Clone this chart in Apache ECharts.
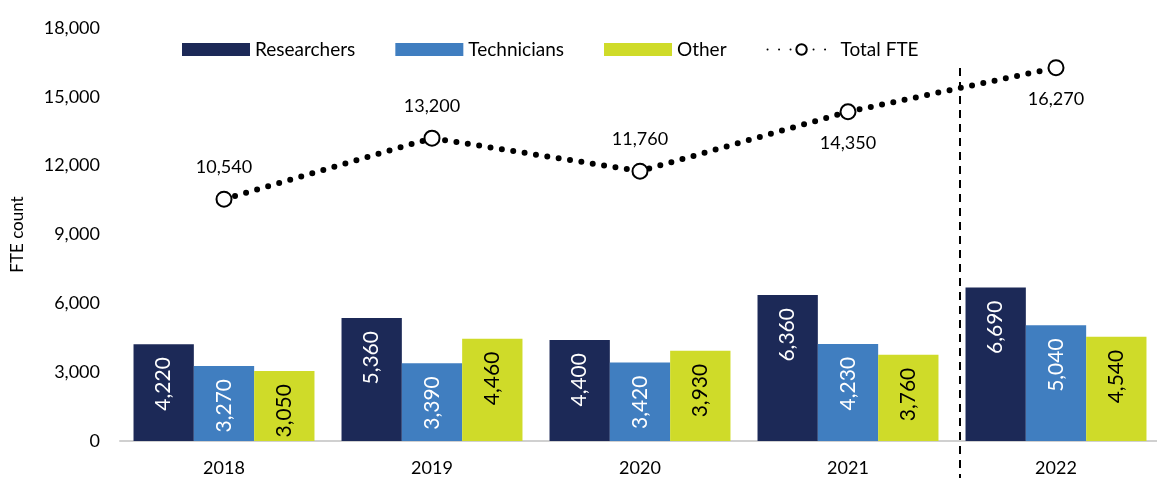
<!DOCTYPE html>
<html>
<head>
<meta charset="utf-8">
<script src="https://cdn.jsdelivr.net/npm/echarts@6/dist/echarts.min.js"></script>
<style>
  html, body { margin: 0; padding: 0; background: #fff; }
  #chart { width: 1157px; height: 478px; }
</style>
</head>
<body>
<div id="chart"></div>
<script>
const years = ['2018', '2019', '2020', '2021', '2022']
const researchers = [4220, 5360, 4400, 6360, 6690]
const technicians = [3270, 3390, 3420, 4230, 5040]
const other = [3050, 4460, 3930, 3760, 4540]
const totalFte = [10540, 13200, 11760, 14350, 16270]
const totalLabelPos = ['top', 'top', 'top', 'bottom', 'bottom']

const font = 'Lato, "Open Sans", sans-serif'
const fmt = v => v.toLocaleString('en-US')

const chart = echarts.init(document.getElementById('chart'))

function barLabel(color) {
  return {
    show: true,
    position: 'insideTop',
    rotate: 90,
    align: 'right',
    verticalAlign: 'middle',
    distance: 13,
    fontSize: 21,
    fontFamily: font,
    color: color,
    formatter: p => fmt(p.value)
  }
}

const option = {
  animation: false,
  textStyle: { fontFamily: font },
  grid: { left: 120, right: -3, top: 28, bottom: 37, outerBoundsMode: 'none' },
  legend: {
    top: 35,
    left: 177,
    itemGap: 40,
    itemWidth: 68,
    itemHeight: 13,
    textStyle: { fontSize: 19, color: '#000', fontFamily: font },
    data: [
      { name: 'Researchers', icon: 'rect' },
      { name: 'Technicians', icon: 'rect' },
      { name: 'Other', icon: 'rect' },
      { name: 'Total FTE' }
    ]
  },
  xAxis: {
    type: 'category',
    data: years,
    axisLine: { lineStyle: { color: '#d0d0d0', width: 2 } },
    axisTick: { show: false },
    axisLabel: { fontSize: 18, color: '#000', margin: 18, fontFamily: font }
  },
  yAxis: {
    type: 'value',
    min: 0,
    max: 18000,
    interval: 3000,
    name: 'FTE count',
    nameLocation: 'middle',
    nameGap: 94,
    nameTextStyle: { fontSize: 17, color: '#000', fontFamily: font },
    axisLine: { show: false },
    axisTick: { show: false },
    splitLine: { show: false },
    axisLabel: { fontSize: 18, color: '#000', margin: 20, formatter: fmt, fontFamily: font }
  },
  series: [
    {
      name: 'Researchers', type: 'bar', data: researchers,
      barGap: '0%', barCategoryGap: '13%',
      itemStyle: { color: '#1c2957' },
      label: barLabel('#fff')
    },
    {
      name: 'Technicians', type: 'bar', data: technicians,
      itemStyle: { color: '#407ec0' },
      label: barLabel('#fff')
    },
    {
      name: 'Other', type: 'bar', data: other,
      itemStyle: { color: '#cfdb29' },
      label: barLabel('#000')
    },
    {
      name: 'Total FTE', type: 'line',
      data: totalFte.map((v, i) => ({
        value: v,
        label: { position: totalLabelPos[i] }
      })),
      symbol: 'circle',
      symbolSize: 15,
      itemStyle: { color: '#fff', borderColor: '#000', borderWidth: 2 },
      lineStyle: { color: '#000', width: 6, type: [0, 11.5], cap: 'round' },
      label: {
        show: true,
        distance: 14,
        fontSize: 18,
        color: '#000',
        fontFamily: font,
        formatter: p => fmt(p.value)
      },
      z: 5
    }
  ]
}

chart.setOption(option)

// dashed divider between 2021 and 2022
const x21 = chart.convertToPixel({ xAxisIndex: 0 }, '2021')
const x22 = chart.convertToPixel({ xAxisIndex: 0 }, '2022')
const xDiv = (x21 + x22) / 2 + 8
chart.setOption({
  graphic: [{
    type: 'line',
    shape: { x1: xDiv, y1: 68, x2: xDiv, y2: 478 },
    style: { stroke: '#000', lineWidth: 2, lineDash: [8, 6] },
    z: 10
  }]
})

window.addEventListener('resize', function () {
  chart.resize()
})
</script>
</body>
</html>
